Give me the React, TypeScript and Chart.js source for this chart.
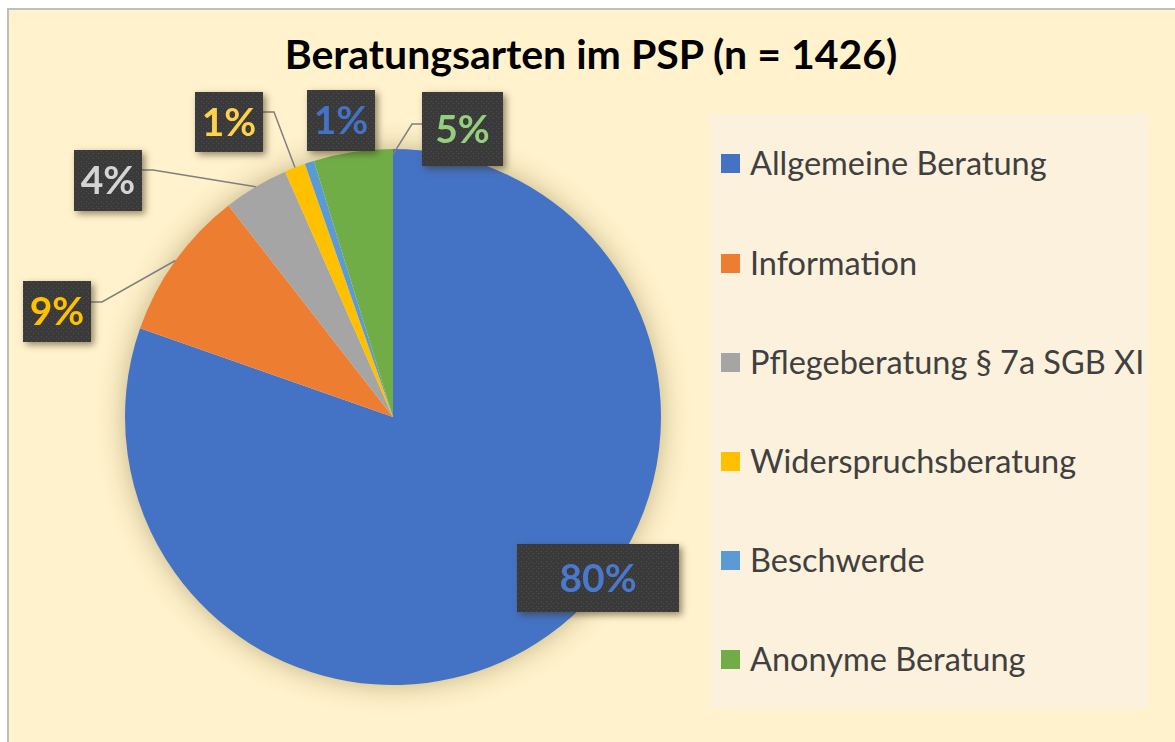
import React, { useEffect, useRef } from "react";
import { Chart, registerables } from "chart.js";

Chart.register(...registerables);

const TITLE = "Beratungsarten im PSP (n = 1426)";
const categories = [
  "Allgemeine Beratung",
  "Information",
  "Pflegeberatung § 7a SGB XI",
  "Widerspruchsberatung",
  "Beschwerde",
  "Anonyme Beratung",
];
const counts = [1146, 130, 56, 18, 8, 68];
const sliceColors = ["#4472C4", "#ED7D31", "#A5A5A5", "#FFC000", "#5B9BD5", "#70AD47"];
const labelColors = ["#4A78CC", "#FFC000", "#D4D4D4", "#FFD24D", "#4472C4", "#93CF7D"];

// label box layout (page px): x, y, w, h, elbow side, connector y, anchor position along arc (0..1), anchor radius factor
type LabelLayout = { x: number; y: number; w: number; h: number; side: "left" | "right" | "none"; cy: number; t: number; rf: number };
const labelLayout: LabelLayout[] = [
  { x: 517, y: 544, w: 162, h: 68, side: "none", cy: 0, t: 0.5, rf: 1 },
  { x: 23, y: 281, w: 68, h: 61, side: "right", cy: 302, t: 0.5, rf: 1 },
  { x: 74, y: 150, w: 68, h: 61, side: "right", cy: 170, t: 0.5, rf: 1 },
  { x: 195, y: 92, w: 68, h: 60, side: "right", cy: 112, t: 0.5, rf: 1 },
  { x: 307, y: 90, w: 68, h: 61, side: "none", cy: 0, t: 0.5, rf: 1 },
  { x: 422, y: 92, w: 81, h: 74, side: "left", cy: 124, t: 1, rf: 0.98 },
];

function makePattern(ctx: CanvasRenderingContext2D) {
  const c = document.createElement("canvas");
  c.width = 5;
  c.height = 5;
  const p = c.getContext("2d")!;
  p.fillStyle = "#3A3A3A";
  p.fillRect(0, 0, 5, 5);
  p.fillStyle = "#4E4E4E";
  p.fillRect(1, 1, 1, 1);
  p.fillRect(3, 3, 1, 1);
  return ctx.createPattern(c, "repeat");
}

const pieShadow = {
  id: "pieShadow",
  beforeDatasetsDraw(chart: any) {
    const arc = chart.getDatasetMeta(0).data[0];
    if (!arc) return;
    const ctx = chart.ctx as CanvasRenderingContext2D;
    ctx.save();
    ctx.shadowColor = "rgba(110, 90, 30, 0.45)";
    ctx.shadowBlur = 28;
    ctx.fillStyle = "#FFF2CC";
    ctx.beginPath();
    ctx.arc(arc.x, arc.y, arc.outerRadius - 1, 0, Math.PI * 2);
    ctx.fill();
    ctx.restore();
  },
};

const boxLabels = {
  id: "boxLabels",
  afterDatasetsDraw(chart: any) {
    const ctx = chart.ctx as CanvasRenderingContext2D;
    const meta = chart.getDatasetMeta(0);
    const data = chart.data.datasets[0].data as number[];
    const total = data.reduce((a, b) => a + b, 0);
    const pattern = makePattern(ctx);
    meta.data.forEach((arc: any, i: number) => {
      const L = labelLayout[i];
      if (!L) return;
      if (L.side !== "none") {
        const ang = arc.startAngle + (arc.endAngle - arc.startAngle) * L.t;
        const ax = arc.x + Math.cos(ang) * arc.outerRadius * L.rf;
        const ay = arc.y + Math.sin(ang) * arc.outerRadius * L.rf;
        const bx = L.side === "right" ? L.x + L.w : L.x;
        const ex = L.side === "right" ? bx + 11 : bx - 10;
        ctx.save();
        ctx.strokeStyle = "#7F7F7F";
        ctx.lineWidth = 1.5;
        ctx.beginPath();
        ctx.moveTo(bx, L.cy);
        ctx.lineTo(ex, L.cy);
        ctx.lineTo(ax, ay);
        ctx.stroke();
        ctx.restore();
      }
      ctx.save();
      ctx.shadowColor = "rgba(60, 50, 20, 0.55)";
      ctx.shadowBlur = 7;
      ctx.shadowOffsetX = 3;
      ctx.shadowOffsetY = 3;
      ctx.fillStyle = pattern || "#3A3A3A";
      ctx.fillRect(L.x, L.y, L.w, L.h);
      ctx.restore();
      const pct = Math.round((data[i] / total) * 100) + "%";
      ctx.save();
      ctx.fillStyle = labelColors[i];
      ctx.font = "bold 39px Lato, 'Open Sans', sans-serif";
      ctx.textAlign = "center";
      ctx.textBaseline = "middle";
      ctx.fillText(pct, L.x + L.w / 2, L.y + L.h / 2 + 1);
      ctx.restore();
    });
  },
};

export default function App() {
  const ref = useRef<HTMLCanvasElement | null>(null);
  useEffect(() => {
    document.body.style.overflow = "hidden";
    const canvas = ref.current!;
    const chart = new Chart(canvas, {
      type: "pie",
      data: {
        labels: categories,
        datasets: [
          {
            data: counts,
            backgroundColor: sliceColors,
            borderWidth: 0,
          },
        ],
      },
      options: {
        animation: false,
        responsive: false,
        layout: { padding: { left: 125, right: 514, top: 149, bottom: 57 } },
        plugins: {
          legend: { display: false },
          title: { display: false },
          tooltip: { enabled: false },
        },
      },
      plugins: [pieShadow, boxLabels],
    });
    return () => chart.destroy();
  }, []);

  const legendRowY = [163, 263, 362, 461, 560, 659];

  return (
    <div>
      <div
        style={{
          position: "absolute",
          left: 7,
          top: 8,
          width: 1168,
          height: 734,
          background: "#FFF2CC",
          borderLeft: "2px solid #BFBFBF",
          borderTop: "2px solid #BFBFBF",
          boxSizing: "border-box",
        }}
      />
      <div
        style={{
          position: "absolute",
          left: 710,
          top: 114,
          width: 438,
          height: 595,
          background: "#FBF1DC",
        }}
      />
      <div
        style={{
          position: "absolute",
          left: 191,
          top: 30,
          width: 800,
          textAlign: "center",
          font: "bold 41px Lato, 'Open Sans', sans-serif",
          lineHeight: "48px",
          color: "#000000",
          whiteSpace: "nowrap",
        }}
      >
        {TITLE}
      </div>
      {categories.map((c, i) => (
        <div
          key={c}
          style={{
            position: "absolute",
            left: 721,
            top: legendRowY[i] - 20,
            height: 40,
            display: "flex",
            alignItems: "center",
            whiteSpace: "nowrap",
          }}
        >
          <span
            style={{
              display: "inline-block",
              width: 19,
              height: 19,
              background: sliceColors[i],
              marginRight: 10,
            }}
          />
          <span style={{ font: "32.5px Lato, 'Open Sans', sans-serif", color: "#404040", lineHeight: "40px" }}>{c}</span>
        </div>
      ))}
      <canvas
        ref={ref}
        width={1175}
        height={742}
        style={{ position: "absolute", left: 0, top: 0, width: 1175, height: 742 }}
      />
    </div>
  );
}
